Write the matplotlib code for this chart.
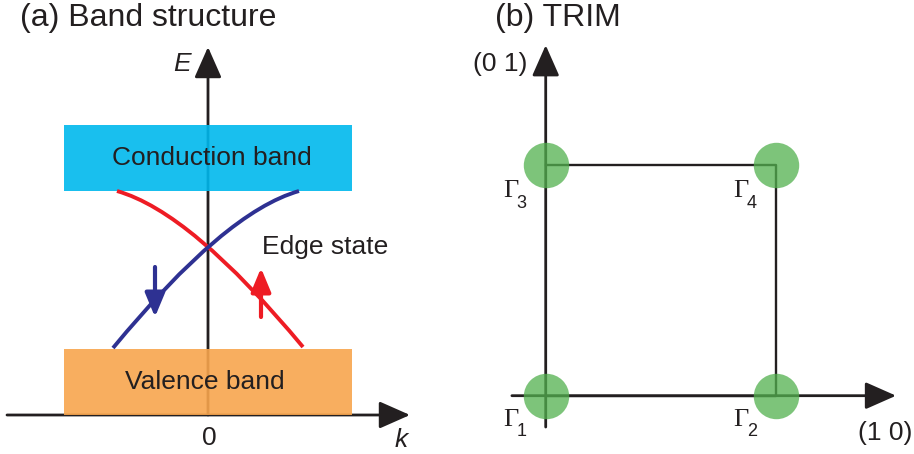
import matplotlib.pyplot as plt
from matplotlib.patches import Rectangle, PathPatch
from matplotlib.path import Path

plt.rcParams['font.family'] = ['Liberation Sans', 'DejaVu Sans']

# band edges (arbitrary units, k horizontal, E vertical)
band_k = [-1.44, 1.44]
conduction_E = [0.52, 1.18]
valence_E = [-1.72, -1.06]

# edge state dispersions: start, bend (control) point, end
red_k = [-0.91, -0.17, 0.95]
red_E = [0.52, 0.31, -1.04]
blue_k = [-0.95, 0.17, 0.91]
blue_E = [-1.05, 0.31, 0.52]

# spin arrows: (k, E_tail, E_tip)
spin_down = (-0.53, -0.24, -0.74)
spin_up = (0.53, -0.74, -0.25)

# time-reversal invariant momenta in units of the reciprocal lattice
trim_x = [0, 1, 0, 1]
trim_y = [0, 0, 1, 1]
trim_labels = ['1', '2', '3', '4']

cyan = '#00B8ED'
orange = '#F8A54D'
red = '#EE1C24'
navy = '#2E3192'
green = '#52B04E'
ink = '#231F20'

fig = plt.figure(figsize=(9.14, 4.54), dpi=100)

# ---------------- (a) band structure ----------------
ax = fig.add_axes([0, 0, 460 / 914, 1])
ax.set_xlim(-2.08, 2.52)
ax.set_ylim(-2.11, 2.43)
ax.axis('off')

axis_arrow = dict(arrowstyle='-|>,head_length=0.95,head_width=0.42', lw=2.0,
                  color=ink, shrinkA=0, shrinkB=0, mutation_scale=20)
ax.annotate('', xy=(2.02, valence_E[0]), xytext=(-2.01, valence_E[0]),
            arrowprops=axis_arrow, zorder=1)
ax.annotate('', xy=(0, 1.96), xytext=(0, valence_E[0]),
            arrowprops=axis_arrow, zorder=1)

ax.add_patch(Rectangle((band_k[0], conduction_E[0]), band_k[1] - band_k[0],
                       conduction_E[1] - conduction_E[0], color=cyan,
                       alpha=0.9, lw=0, zorder=2))
ax.add_patch(Rectangle((band_k[0], valence_E[0]), band_k[1] - band_k[0],
                       valence_E[1] - valence_E[0], color=orange,
                       alpha=0.9, lw=0, zorder=2))

# smooth edge-state branches as quadratic curves
codes = [Path.MOVETO, Path.CURVE3, Path.CURVE3]
for ks, es, c in [(red_k, red_E, red), (blue_k, blue_E, navy)]:
    path = Path(list(zip(ks, es)), codes)
    ax.add_patch(PathPatch(path, facecolor='none', edgecolor=c, lw=2.8,
                           capstyle='butt', zorder=3))

spin_arrow = dict(arrowstyle='-|>,head_length=0.72,head_width=0.3', lw=3.0,
                  shrinkA=0, shrinkB=0, mutation_scale=20)
ax.annotate('', xy=(spin_down[0], spin_down[2]), xytext=(spin_down[0], spin_down[1]),
            arrowprops=dict(spin_arrow, color=navy), zorder=4)
ax.annotate('', xy=(spin_up[0], spin_up[2]), xytext=(spin_up[0], spin_up[1]),
            arrowprops=dict(spin_arrow, color=red), zorder=4)

ax.text(0.04, sum(conduction_E) / 2, 'Conduction band', fontsize=19,
        ha='center', va='center', color=ink, zorder=5)
ax.text(-0.03, sum(valence_E) / 2, 'Valence band', fontsize=19,
        ha='center', va='center', color=ink, zorder=5)
ax.text(0.54, -0.04, 'Edge state', fontsize=19, ha='left', va='center',
        color=ink, zorder=5)
ax.text(-0.26, 1.79, 'E', fontsize=19, style='italic', ha='center',
        va='center', color=ink)
ax.text(0.01, -1.95, '0', fontsize=19, ha='center', va='center', color=ink)
ax.text(1.93, -1.97, 'k', fontsize=19, style='italic', ha='center',
        va='center', color=ink)

fig.text(20 / 914, 1 - 18 / 454, '(a) Band structure', fontsize=23,
         ha='left', va='center', color=ink)

# ---------------- (b) TRIM ----------------
bx = fig.add_axes([460 / 914, 0, 454 / 914, 1])
bx.set_xlim(-0.3726, 1.601)
bx.set_ylim(-0.253, 1.717)
bx.axis('off')

bx.annotate('', xy=(1.523, 0), xytext=(-0.147, 0), arrowprops=axis_arrow, zorder=1)
bx.annotate('', xy=(0, 1.521), xytext=(0, -0.136), arrowprops=axis_arrow, zorder=1)
bx.plot([0, 1, 1, 0], [0, 0, 1, 1], color=ink, lw=1.7, zorder=1)

bx.scatter(trim_x, trim_y, s=32.7 ** 2, color=green, alpha=0.75,
           linewidths=0, zorder=2)

for x, y, lab in zip(trim_x, trim_y, trim_labels):
    dy = 24 if y == 0 else 26
    bx.annotate('\u0393', (x, y), xytext=(-35, -dy), textcoords='offset pixels',
                fontsize=19, family='Liberation Serif', ha='center',
                va='center', color=ink)
    bx.annotate(lab, (x, y), xytext=(-24, -dy - 12), textcoords='offset pixels',
                fontsize=13, ha='center', va='center', color=ink)

bx.text(-0.199, 1.439, '(0 1)', fontsize=19, ha='center', va='center', color=ink)
bx.text(1.475, -0.163, '(1 0)', fontsize=19, ha='center', va='center', color=ink)

fig.text(495 / 914, 1 - 18 / 454, '(b) TRIM', fontsize=23, ha='left',
         va='center', color=ink)

fig.savefig('out.png', dpi=100)
